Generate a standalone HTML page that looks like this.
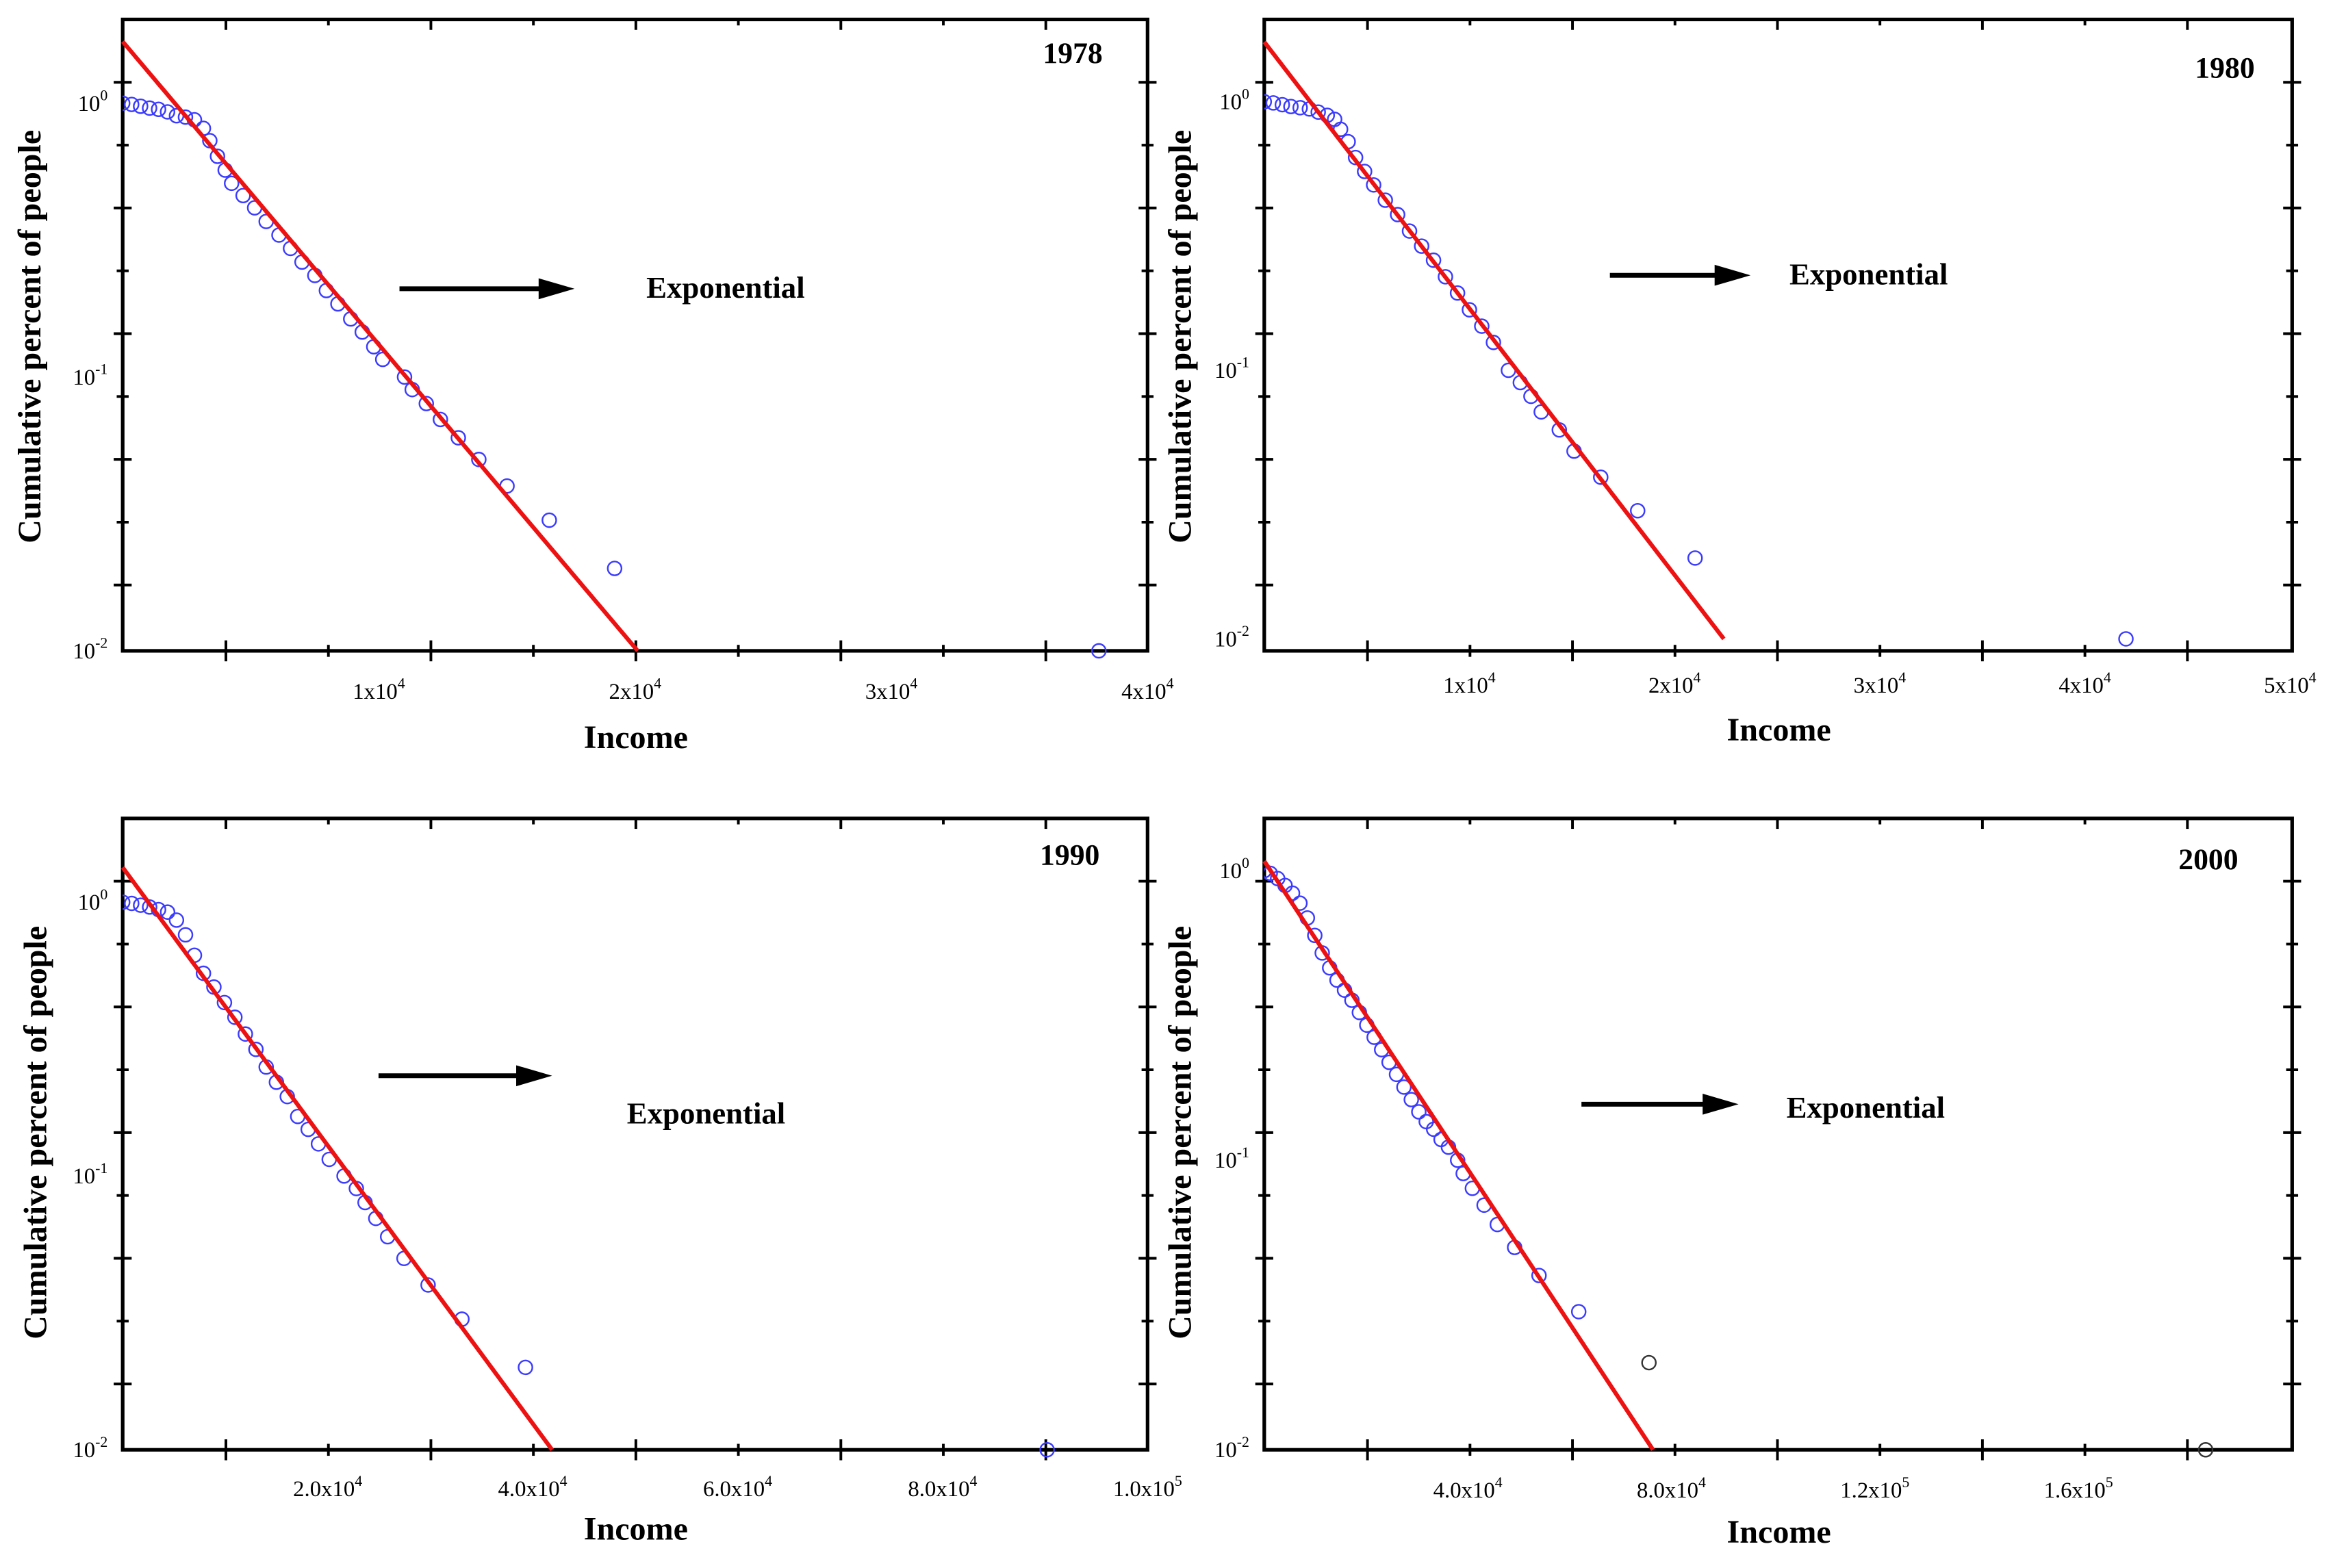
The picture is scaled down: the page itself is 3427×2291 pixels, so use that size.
<!DOCTYPE html>
<html><head><meta charset="utf-8"><style>
html,body{margin:0;padding:0;background:#fff;}
svg{display:block;}
text{font-family:"Liberation Serif",serif;fill:#000;}
</style></head><body>
<svg id="fig" width="3427" height="2291" viewBox="0 0 1568 1048" preserveAspectRatio="none" xmlns="http://www.w3.org/2000/svg"></svg>
<script>
// ---- data: panel 1978 ----
const x1978 = [0,350,700,1050,1400,1750,2100,2450,2800,3150,3400,3700,4000,4250,4700,5150,5600,6100,6550,7000,7500,7950,8400,8900,9350,9800,10150,11000,11300,11850,12400,13100,13900,15000,16650,19200,38100];
const y1978 = [1.0,0.99,0.975,0.96,0.95,0.93,0.90,0.89,0.87,0.81,0.73,0.64,0.57,0.51,0.46,0.415,0.37,0.33,0.295,0.263,0.235,0.207,0.185,0.163,0.146,0.129,0.116,0.10,0.09,0.08,0.07,0.06,0.05,0.04,0.03,0.02,0.01];
const fit1978 = [1.68, 20100]; // [value at 0, income where fit reaches 0.01]
// ---- data: panel 1980 ----
const x1980 = [0,440,880,1300,1750,2200,2630,3070,3430,3720,4090,4450,4890,5330,5900,6500,7080,7670,8250,8830,9420,10000,10600,11170,11900,12480,13000,13500,14380,15100,16400,18200,21000,42000];
const y1980 = [1.0,0.99,0.975,0.96,0.95,0.94,0.915,0.89,0.86,0.79,0.71,0.62,0.55,0.49,0.43,0.38,0.33,0.29,0.257,0.223,0.194,0.168,0.146,0.127,0.10,0.09,0.08,0.07,0.06,0.05,0.04,0.03,0.02,0.01];
const fit1980 = [1.67, 22400];
// ---- data: panel 1990 ----
const x1990 = [0,880,1750,2630,3500,4380,5250,6130,7000,7880,8900,9930,10950,11970,13000,14000,15000,16060,17080,18100,19100,20150,21600,22800,23650,24700,25850,27450,29800,33100,39300,90200];
const y1990 = [1.0,0.99,0.975,0.96,0.94,0.92,0.86,0.76,0.64,0.55,0.49,0.43,0.38,0.33,0.29,0.25,0.22,0.195,0.165,0.148,0.131,0.115,0.10,0.09,0.08,0.07,0.06,0.05,0.04,0.03,0.02,0.01];
const fit1990 = [1.34, 41900];
// ---- data: panel 2000 ----
const x2000 = [0,1170,2630,4090,5550,7010,8470,9930,11390,12850,14300,15770,17230,18690,20150,21600,23070,24530,25990,27450,28900,30370,31830,33290,34750,36200,38000,39100,40900,43200,45800,49200,54000,61800,75600,185000];
const y2000 = [1.0,0.98,0.94,0.89,0.837,0.773,0.687,0.598,0.52,0.462,0.419,0.387,0.357,0.324,0.293,0.266,0.241,0.218,0.198,0.179,0.162,0.147,0.136,0.128,0.118,0.111,0.10,0.09,0.08,0.07,0.06,0.05,0.04,0.03,0.02,0.01];
const fit2000 = [1.08, 76400];
const xTickVals1978 = [10000,20000,30000,40000];
const xTickLbl1978 = [["1x10","4"],["2x10","4"],["3x10","4"],["4x10","4"]];
const xTickVals1980 = [10000,20000,30000,40000,50000];
const xTickLbl1980 = [["1x10","4"],["2x10","4"],["3x10","4"],["4x10","4"],["5x10","4"]];
const xTickVals1990 = [20000,40000,60000,80000,100000];
const xTickLbl1990 = [["2.0x10","4"],["4.0x10","4"],["6.0x10","4"],["8.0x10","4"],["1.0x10","5"]];
const xTickVals2000 = [40000,80000,120000,160000];
const xTickLbl2000 = [["4.0x10","4"],["8.0x10","4"],["1.2x10","5"],["1.6x10","5"]];
const yTickVals = [1,0.1,0.01];
const yTickExp = ["0","-1","-2"];

const NS="http://www.w3.org/2000/svg";
const svg=document.getElementById('fig');
function mk(tag,attrs,parent){const e=document.createElementNS(NS,tag);for(const k in attrs)e.setAttribute(k,attrs[k]);(parent||svg).appendChild(e);return e;}

const panels=[
 {year:"1978",xs:x1978,ys:y1978,fit:fit1978,xt:xTickVals1978,xl:xTickLbl1978,L:82,R:767,T:13,B:435,xmax:40000,y0:69,dec:183,
  yearX:737,yearY:42,arr:[267,384,193],expX:432,expY:199,incX:425,incY:500,ytX:27,ytY:225,lblY:467,blackFrom:99},
 {year:"1980",xs:x1980,ys:y1980,fit:fit1980,xt:xTickVals1980,xl:xTickLbl1980,L:845,R:1532,T:13,B:435,xmax:50100,y0:68,dec:179.5,
  yearX:1507,yearY:52,arr:[1076,1170,184],expX:1196,expY:190,incX:1189,incY:495,ytX:796,ytY:225,lblY:463,blackFrom:99},
 {year:"1990",xs:x1990,ys:y1990,fit:fit1990,xt:xTickVals1990,xl:xTickLbl1990,L:82,R:767,T:547,B:969,xmax:100000,y0:603,dec:183,
  yearX:735,yearY:578,arr:[253,369,719],expX:419,expY:751,incX:425,incY:1029,ytX:31,ytY:757,lblY:1000,blackFrom:99},
 {year:"2000",xs:x2000,ys:y2000,fit:fit2000,xt:xTickVals2000,xl:xTickLbl2000,L:845,R:1532,T:547,B:969,xmax:202000,y0:582,dec:193.5,
  yearX:1496,yearY:581,arr:[1057,1162,738],expX:1194,expY:747,incX:1189,incY:1031,ytX:796,ytY:757,lblY:1001,blackFrom:34}
];

panels.forEach(p=>{
  const g=mk('g',{});
  
  
  const X=v=>p.L+v/p.xmax*(p.R-p.L);
  const Y=v=>p.y0-Math.log10(v)*p.dec;
  const cid='clip'+p.year;
  const cp=mk('clipPath',{id:cid},g); mk('rect',{x:p.L,y:p.T-6,width:p.R-p.L+6,height:p.B-p.T+12},cp);
  const tk=mk('g',{stroke:'#000','stroke-width':1.8},g);
  
  
  for(let yy=p.T+42,i=0;yy<p.B-5;yy+=42,i++){
    const l=i%2==0?6:4;
    mk('line',{x1:p.L-l,x2:p.L+l,y1:yy,y2:yy},tk);
    mk('line',{x1:p.R-l,x2:p.R+l,y1:yy,y2:yy},tk);
  }
  for(let xx=p.L+69,i=0;xx<p.R-5;xx+=68.5,i++){
    const l=i%2==0?7:4;
    mk('line',{x1:xx,x2:xx,y1:p.B-l,y2:p.B+l},tk);
    mk('line',{x1:xx,x2:xx,y1:p.T,y2:p.T+l},tk);
  }
  const fr=mk('rect',{x:p.L,y:p.T,width:p.R-p.L,height:p.B-p.T,fill:'none',stroke:'#000','stroke-width':2.4},g);
  
  
  yTickVals.forEach((v,i)=>{
    const t=mk('text',{x:p.L-10,y:Y(v)+5,'text-anchor':'end','font-size':15,fill:'#222'},g);
    
    
    t.appendChild(document.createTextNode('10'));
    const s=mk('tspan',{'font-size':10,dy:-7},t); s.textContent=yTickExp[i];
  });
  p.xt.forEach((v,i)=>{
    const t=mk('text',{x:X(v),y:p.lblY,'text-anchor':'middle','font-size':15,fill:'#222'},g);
    
    
    t.appendChild(document.createTextNode(p.xl[i][0]));
    const s=mk('tspan',{'font-size':10,dy:-7},t); s.textContent=p.xl[i][1];
  });
  const xt=mk('text',{x:p.incX,y:p.incY,'text-anchor':'middle','font-size':22,'font-weight':'bold'},g);
  xt.textContent='Income';
  
  
  const yt=mk('text',{x:p.ytX,y:p.ytY,'text-anchor':'middle','font-size':22,'font-weight':'bold',transform:`rotate(-90 ${p.ytX} ${p.ytY})`},g);
  yt.textContent='Cumulative percent of people';
  
  
  const yr=mk('text',{x:p.yearX,y:p.yearY,'text-anchor':'end','font-size':20,'font-weight':'bold'},g);
  yr.textContent=p.year;
  
  
  const ar=mk('g',{},g);
  
  
  mk('line',{x1:p.arr[0],x2:p.arr[1]-20,y1:p.arr[2],y2:p.arr[2],stroke:'#000','stroke-width':3.2},ar);
  mk('polygon',{points:`${p.arr[1]-24},${p.arr[2]-7} ${p.arr[1]},${p.arr[2]} ${p.arr[1]-24},${p.arr[2]+7}`,fill:'#000'},ar);
  const ex=mk('text',{x:p.expX,y:p.expY,'font-size':20.5,'font-weight':'bold'},g);
  ex.textContent='Exponential';
  
  
  const dg=mk('g',{'clip-path':`url(#${cid})`},g);
  p.xs.forEach((xv,i)=>{
    const c=mk('circle',{cx:X(xv),cy:Y(p.ys[i]),r:4.6,fill:'none',stroke:i>=p.blackFrom?'#333':'#3b3bff','stroke-width':1.1},dg);
    
    
  });
  const fl=mk('line',{x1:X(0),y1:Y(p.fit[0]),x2:X(p.fit[1]),y2:Y(0.01),stroke:'#ee1111','stroke-width':2.8},g);
  
  
});
</script>
</body></html>
